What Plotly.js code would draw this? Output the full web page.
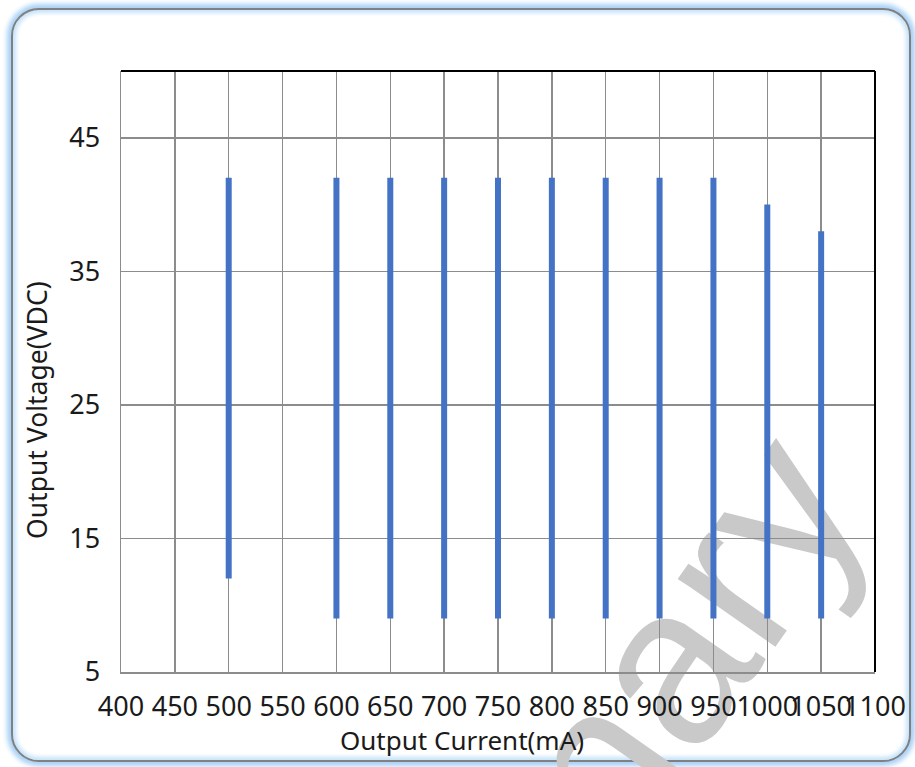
<!DOCTYPE html>
<html>
<head>
<meta charset="utf-8">
<script src="https://cdn.plot.ly/plotly-3.0.1.min.js"></script>
<style>
  html, body { margin: 0; padding: 0; background: #ffffff; }
  #wrap { position: relative; width: 915px; height: 767px; overflow: hidden; background: #ffffff; }
  #frame {
    position: absolute; left: 11px; top: 8px; width: 896px; height: 750px;
    border: 2px solid #808080; border-radius: 28px; background: #ffffff;
    box-shadow: 0 0 5px 4px #a7d0f6, inset 0 0 4px 3px #c4e2fb;
  }
  #chart { position: absolute; left: 0; top: 0; width: 915px; height: 767px; }
</style>
</head>
<body>
<div id="wrap">
  <div id="frame"></div>
  <div id="chart"></div>
</div>
<script>
// Data
const currents = [500, 600, 650, 700, 750, 800, 850, 900, 950, 1000, 1050];
const vMin =     [12,  9,   9,   9,   9,   9,   9,   9,   9,   9,    9];
const vMax =     [42,  42,  42,  42,  42,  42,  42,  42,  42,  40,   38];
const xTicks = [400, 450, 500, 550, 600, 650, 700, 750, 800, 850, 900, 950, 1000, 1050, 1100];
const yTicks = [5, 15, 25, 35, 45];
const xTitle = "Output Current(mA)";
const yTitle = "Output Voltage(VDC)";
const watermark = "Preliminary";

const xs = [], ys = [];
currents.forEach((c, i) => {
  xs.push(c, c, null);
  ys.push(vMin[i], vMax[i], null);
});

const trace = {
  x: xs, y: ys, type: 'scatter', mode: 'lines',
  line: { color: '#4472C4', width: 6 },
  connectgaps: false, hoverinfo: 'skip', showlegend: false
};

const fontFam = 'Noto Sans, Open Sans, sans-serif';
const txt = '#1a1a1a';

const layout = {
  width: 915, height: 767,
  margin: { l: 121, r: 40, t: 71, b: 95 },
  paper_bgcolor: 'rgba(0,0,0,0)',
  plot_bgcolor: 'rgba(0,0,0,0)',
  font: { family: fontFam, color: txt, size: 24 },
  xaxis: {
    range: [400, 1100], tickvals: xTicks, ticktext: xTicks.map(String),
    tickangle: 0, showgrid: true, gridcolor: '#8c8c8c', gridwidth: 1.5,
    showline: true, linecolor: '#8c8c8c', linewidth: 1.5, zeroline: false,
    ticks: '', ticklen: 0, ticklabelstandoff: 10,
    tickfont: { size: 27, family: fontFam, color: txt },
    automargin: false, fixedrange: true
  },
  yaxis: {
    range: [5, 50], tickvals: yTicks, ticktext: yTicks.map(String),
    showgrid: true, gridcolor: '#8c8c8c', gridwidth: 1.5,
    showline: true, linecolor: '#8c8c8c', linewidth: 1.5, zeroline: false,
    ticks: '', ticklen: 0, ticklabelstandoff: 14,
    tickfont: { size: 27, family: fontFam, color: txt },
    automargin: false, fixedrange: true
  },
  annotations: [
    { text: xTitle, xref: 'paper', yref: 'paper', x: 0.452, y: -0.113,
      xanchor: 'center', yanchor: 'middle', showarrow: false,
      font: { size: 26, family: fontFam, color: txt } },
    { text: yTitle, xref: 'paper', yref: 'paper', x: -0.1114, y: 0.436,
      xanchor: 'center', yanchor: 'middle', showarrow: false, textangle: -90,
      font: { size: 26.5, family: fontFam, color: txt } }
  ],
  shapes: [
    { type: 'line', xref: 'paper', yref: 'paper', x0: 0, x1: 1, y0: 1, y1: 1,
      line: { color: '#000000', width: 2 } },
    { type: 'line', xref: 'paper', yref: 'paper', x0: 1, x1: 1, y0: 0, y1: 1,
      line: { color: '#000000', width: 2 } },
    { type: 'rect', xref: 'paper', yref: 'paper', layer: 'below',
      x0: 0.443, x1: 0.483, y0: -0.416, y1: -0.376,
      line: { width: 0 }, fillcolor: 'rgba(0,0,0,0)',
      label: { text: watermark, textangle: -55, textposition: 'middle center',
               font: { size: 225, family: 'Liberation Sans, Arial, sans-serif', color: '#c9c9c9' } } }
  ]
};

Plotly.newPlot('chart', [trace], layout, { staticPlot: true, displayModeBar: false });
</script>
</body>
</html>
